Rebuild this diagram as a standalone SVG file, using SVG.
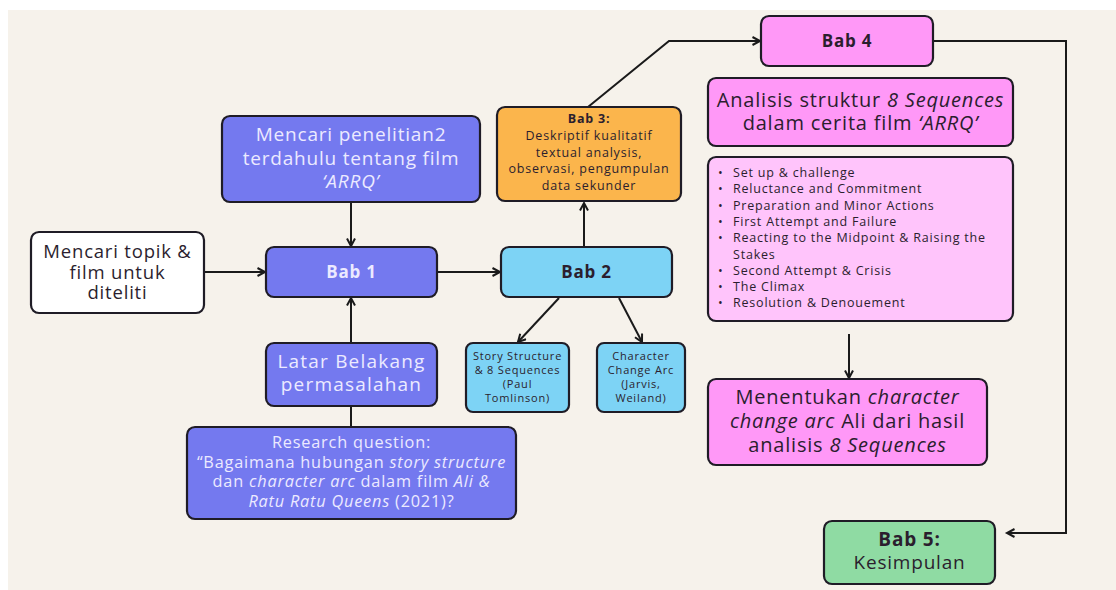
<svg xmlns="http://www.w3.org/2000/svg" width="1116" height="590" viewBox="0 0 1116 590">
<defs>
<marker id="ah" markerUnits="userSpaceOnUse" markerWidth="12" markerHeight="12" refX="9" refY="5" orient="auto">
<path d="M1.5,1 L9,5 L1.5,9" fill="none" stroke="#1a1a1a" stroke-width="2" stroke-linejoin="miter"/>
</marker>
<style>
.box{stroke:#1f1c26;stroke-width:2.2}
.blue{fill:#7479ef}
.lblue{fill:#7dd3f5}
.orange{fill:#fbb54c}
.pink{fill:#ff98f7}
.lpink{fill:#ffc4fb}
.green{fill:#8fdba3}
.white{fill:#ffffff}
text{font-family:"Open Sans","Noto Sans","DejaVu Sans",sans-serif;text-anchor:middle;letter-spacing:0.8px}
.lt{fill:#eceaff}
.dk{fill:#2b1e2e}
.b{font-weight:700}
.i{font-style:italic}
.conn{fill:none;stroke:#1a1a1a;stroke-width:2}
</style>
</defs>
<rect x="0" y="0" width="1116" height="590" fill="#ffffff"/>
<rect x="8" y="10" width="1108" height="580" fill="#f6f2eb"/>

<g id="connectors">
<path class="conn" d="M204,272 H265" marker-end="url(#ah)"/>
<path class="conn" d="M351,202 V246" marker-end="url(#ah)"/>
<path class="conn" d="M351,343 V298" marker-end="url(#ah)"/>
<path class="conn" d="M351,406 V427"/>
<path class="conn" d="M437,272 H500" marker-end="url(#ah)"/>
<path class="conn" d="M584,247 V203" marker-end="url(#ah)"/>
<path class="conn" d="M559,298 L518,342" marker-end="url(#ah)"/>
<path class="conn" d="M619,298 L642,342" marker-end="url(#ah)"/>
<path class="conn" d="M588,107 L669,41 H760" marker-end="url(#ah)"/>
<path class="conn" d="M933,41 H1066 V533 H1007" marker-end="url(#ah)"/>
<path class="conn" d="M849,334 V378" marker-end="url(#ah)"/>
</g>

<g id="topik">
<rect class="box white" x="31" y="232" width="173" height="81" rx="8"/>
<text class="dk" font-size="18.5" y="258"><tspan x="117.5">Mencari topik &amp;</tspan><tspan x="117.5" dy="20.5">film untuk</tspan><tspan x="117.5" dy="20.5">diteliti</tspan></text>
</g>

<g id="penelitian">
<rect class="box blue" x="222" y="116" width="258" height="86" rx="8"/>
<text class="lt" font-size="19" y="141"><tspan x="351">Mencari penelitian2</tspan><tspan x="351" dy="23.5">terdahulu tentang film</tspan><tspan x="351" dy="23.5" class="i">‘ARRQ’</tspan></text>
</g>

<g id="bab1">
<rect class="box blue" x="266" y="247" width="171" height="50" rx="8"/>
<text class="lt b" font-size="17" x="351.5" y="278">Bab 1</text>
</g>

<g id="bab2">
<rect class="box lblue" x="501" y="247" width="171" height="50" rx="8"/>
<text class="dk b" font-size="17" x="586.5" y="278">Bab 2</text>
</g>

<g id="bab3">
<rect class="box orange" x="497" y="107" width="184" height="94" rx="8"/>
<text class="dk" font-size="12.5" y="123"><tspan x="589" class="b">Bab 3:</tspan><tspan x="589" dy="16.8">Deskriptif kualitatif</tspan><tspan x="589" dy="16.8">textual analysis,</tspan><tspan x="589" dy="16.8">observasi, pengumpulan</tspan><tspan x="589" dy="16.8">data sekunder</tspan></text>
</g>

<g id="story">
<rect class="box lblue" x="466" y="343" width="103" height="69" rx="7"/>
<text class="dk" font-size="11" y="360"><tspan x="517.5">Story Structure</tspan><tspan x="517.5" dy="14">&amp; 8 Sequences</tspan><tspan x="517.5" dy="14">(Paul</tspan><tspan x="517.5" dy="14">Tomlinson)</tspan></text>
</g>

<g id="chararc">
<rect class="box lblue" x="597" y="343" width="88" height="69" rx="7"/>
<text class="dk" font-size="11" y="360"><tspan x="641">Character</tspan><tspan x="641" dy="14">Change Arc</tspan><tspan x="641" dy="14">(Jarvis,</tspan><tspan x="641" dy="14">Weiland)</tspan></text>
</g>

<g id="latar">
<rect class="box blue" x="266" y="343" width="171" height="63" rx="8"/>
<text class="lt" font-size="19" y="368" style="letter-spacing:1.2px"><tspan x="351.5">Latar Belakang</tspan><tspan x="351.5" dy="23">permasalahan</tspan></text>
</g>

<g id="research">
<rect class="box blue" x="187" y="427" width="329" height="92" rx="8"/>
<text class="lt" font-size="16.3" y="448"><tspan x="351.5">Research question:</tspan><tspan x="351.5" dy="19.7">“Bagaimana hubungan <tspan class="i">story structure</tspan></tspan><tspan x="351.5" dy="19.7">dan <tspan class="i">character arc</tspan> dalam film <tspan class="i">Ali &amp;</tspan></tspan><tspan x="351.5" dy="19.7"><tspan class="i">Ratu Ratu Queens</tspan> (2021)?</tspan></text>
</g>

<g id="bab4">
<rect class="box pink" x="761" y="16" width="172" height="50" rx="8"/>
<text class="dk b" font-size="17" x="847" y="47">Bab 4</text>
</g>

<g id="analisis">
<rect class="box pink" x="708" y="78" width="305" height="68" rx="8"/>
<text class="dk" font-size="20" y="107"><tspan x="860.5">Analisis struktur <tspan class="i">8 Sequences</tspan></tspan><tspan x="860.5" dy="23">dalam cerita film <tspan class="i">‘ARRQ’</tspan></tspan></text>
</g>

<g id="list">
<rect class="box lpink" x="708" y="157" width="305" height="164" rx="8"/>
<g class="dk" font-size="12.5">
<text y="177" style="text-anchor:start"><tspan x="718">•</tspan><tspan x="733">Set up &amp; challenge</tspan></text>
<text y="193.3" style="text-anchor:start"><tspan x="718">•</tspan><tspan x="733">Reluctance and Commitment</tspan></text>
<text y="209.6" style="text-anchor:start"><tspan x="718">•</tspan><tspan x="733">Preparation and Minor Actions</tspan></text>
<text y="225.9" style="text-anchor:start"><tspan x="718">•</tspan><tspan x="733">First Attempt and Failure</tspan></text>
<text y="242.2" style="text-anchor:start"><tspan x="718">•</tspan><tspan x="733">Reacting to the Midpoint &amp; Raising the</tspan></text>
<text y="258.5" style="text-anchor:start"><tspan x="733">Stakes</tspan></text>
<text y="274.8" style="text-anchor:start"><tspan x="718">•</tspan><tspan x="733">Second Attempt &amp; Crisis</tspan></text>
<text y="291.1" style="text-anchor:start"><tspan x="718">•</tspan><tspan x="733">The Climax</tspan></text>
<text y="307.4" style="text-anchor:start"><tspan x="718">•</tspan><tspan x="733">Resolution &amp; Denouement</tspan></text>
</g>
</g>

<g id="menentukan">
<rect class="box pink" x="708" y="379" width="279" height="86" rx="8"/>
<text class="dk" font-size="20" y="404"><tspan x="847.5">Menentukan <tspan class="i">character</tspan></tspan><tspan x="847.5" dy="24"><tspan class="i">change arc</tspan> Ali dari hasil</tspan><tspan x="847.5" dy="24">analisis <tspan class="i">8 Sequences</tspan></tspan></text>
</g>

<g id="bab5">
<rect class="box green" x="824" y="521" width="171" height="63" rx="8"/>
<text class="dk" font-size="19" y="546"><tspan x="909.5" class="b">Bab 5:</tspan><tspan x="909.5" dy="23">Kesimpulan</tspan></text>
</g>
</svg>
